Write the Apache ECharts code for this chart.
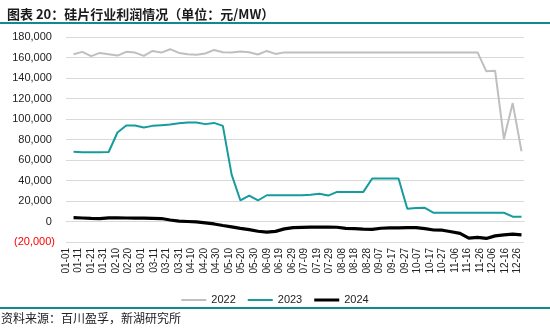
<!DOCTYPE html>
<html>
<head>
<meta charset="utf-8">
<script src="https://cdn.jsdelivr.net/npm/echarts@6/dist/echarts.min.js"></script>
<style>
  html, body { margin: 0; padding: 0; background: #fff; }
  #chart { width: 550px; height: 330px; }
</style>
</head>
<body>
<div id="chart"></div>
<script>
// Weekly sample dates (MM-DD), shared by the three yearly series
const weekDates = [
  '01-07','01-14','01-21','01-28','02-04','02-11','02-18','02-25',
  '03-03','03-10','03-17','03-24','03-31','04-07','04-14','04-21','04-28',
  '05-05','05-12','05-19','05-26','06-02','06-09','06-16','06-23','06-30',
  '07-07','07-14','07-21','07-28','08-04','08-11','08-18','08-25',
  '09-01','09-08','09-15','09-22','09-29','10-06','10-13','10-20','10-27',
  '11-03','11-10','11-17','11-24','12-01','12-08','12-15','12-22','12-29'
];

// Silicon wafer industry profit, yuan / MW
const profit2022 = [
  163200, 165500, 161300, 164500, 163200, 161900, 165500, 164800, 161600, 166400,
  164800, 168100, 164500, 163200, 162600, 163900, 167400, 165100, 164800, 165800,
  165100, 162900, 166400, 163500, 165000, 165000, 165000, 165000, 165000, 165000,
  165000, 165000, 165000, 165000, 165000, 165000, 165000, 165000, 165000, 165000,
  165000, 165000, 165000, 165000, 165000, 165000, 165000, 146500, 147000, 80500,
  115500, 68500
];
const profit2023 = [
  68000, 67500, 67500, 67500, 67800, 86800, 93600, 93600, 91700, 93300,
  94000, 94600, 95900, 96500, 96500, 95000, 96200, 93300, 45700, 20500,
  25300, 20500, 25600, 25500, 25500, 25500, 25500, 26200, 27000, 25300,
  28900, 28900, 28900, 28900, 42000, 42000, 42000, 42000, 12400, 13200,
  13400, 8500, 8500, 8500, 8500, 8500, 8500, 8500, 8500, 8500,
  4700, 4700
];
const profit2024 = [
  3700, 3400, 3000, 2800, 3500, 3500, 3400, 3300, 3200, 3100,
  2900, 1500, 400, 0, -400, -1300, -2400, -3900, -5300, -6700,
  -8000, -9500, -10300, -9600, -7200, -6000, -5700, -5400, -5400, -5400,
  -5600, -6700, -7000, -7400, -7700, -6600, -6300, -6200, -6000, -6000,
  -7000, -8300, -8500, -10000, -11600, -16300, -15500, -16500, -14000, -13000,
  -12400, -13000
];

const seriesNames = ['2022', '2023', '2024'];
const seriesColors = ['#bfbfbf', '#169c9c', '#000000'];
const seriesWidths = [2, 2, 3.2];
const seriesValues = [profit2022, profit2023, profit2024];

// Legend keys drawn in a 25x12 box: a centred horizontal bar (thin for 2022/2023, thick for 2024)
const legendIcons = [
  'path://M0,0L0.01,0L0,0Z M0,5H25V7H0Z M0,12L0.01,12L0,12Z',
  'path://M0,0L0.01,0L0,0Z M0,5H25V7H0Z M0,12L0.01,12L0,12Z',
  'path://M0,0L0.01,0L0,0Z M0,4.4H25V7.6H0Z M0,12L0.01,12L0,12Z'
];

// Day-of-year categories (leap-year calendar), labelled every 10 days
const dayLabels = [];
for (let d = new Date(Date.UTC(2024, 0, 1)); d.getUTCFullYear() === 2024; d.setUTCDate(d.getUTCDate() + 1)) {
  const mm = String(d.getUTCMonth() + 1).padStart(2, '0');
  const dd = String(d.getUTCDate()).padStart(2, '0');
  dayLabels.push(mm + '-' + dd);
}

const fmtThousands = v => String(v).replace(/\B(?=(\d{3})+(?!\d))/g, ',');

const chart = echarts.init(document.getElementById('chart'), null, { renderer: 'canvas' });

chart.setOption({
  animation: false,
  backgroundColor: '#ffffff',
  color: seriesColors,
  textStyle: { fontFamily: '"Liberation Sans", Arial, sans-serif' },
  title: {
    text: '图表 20：硅片行业利润情况（单位：元/MW）',
    left: 2,
    top: 3,
    textStyle: {
      fontFamily: '"Noto Sans CJK SC", sans-serif',
      fontSize: 13,
      fontWeight: 'bold',
      color: '#1a1a1a'
    }
  },
  graphic: [
    { type: 'rect', left: 0, top: 22, shape: { width: 550, height: 2 }, style: { fill: '#12898b' } },
    { type: 'rect', left: 0, top: 307, shape: { width: 550, height: 2 }, style: { fill: '#12898b' } },
    {
      type: 'text', left: 1, top: 312,
      style: {
        text: '资料来源：百川盈孚，新湖研究所',
        font: '12px "Noto Sans CJK SC", sans-serif',
        fill: '#222'
      }
    }
  ],
  legend: {
    data: seriesNames.map((name, i) => ({
      name,
      icon: legendIcons[i],
      itemStyle: { color: seriesColors[i], borderWidth: 0, opacity: 1 }
    })),
    left: 'center',
    top: 289,
    itemWidth: 25,
    itemHeight: 12,
    itemGap: 12,
    symbolKeepAspect: false,
    textStyle: { fontSize: 11, color: '#222', fontFamily: '"Liberation Sans", Arial, sans-serif' }
  },
  grid: { left: 66, right: 26, top: 37, bottom: 88, containLabel: false },
  xAxis: {
    type: 'category',
    data: dayLabels,
    boundaryGap: false,
    axisLine: { show: true, lineStyle: { color: '#d9d9d9', width: 1 } },
    axisTick: { show: false },
    axisLabel: {
      interval: 9,
      rotate: 90,
      margin: 6,
      fontSize: 10,
      color: '#222'
    },
    splitLine: { show: false }
  },
  yAxis: {
    type: 'value',
    min: -20000,
    max: 180000,
    interval: 20000,
    axisLine: { show: false },
    axisTick: { show: false },
    splitLine: { lineStyle: { color: '#d9d9d9', width: 1 } },
    axisLabel: {
      margin: 11,
      fontSize: 11,
      color: '#222',
      formatter: v => v < 0 ? '{neg|(' + fmtThousands(-v) + ')}' : fmtThousands(v) + ' ',
      rich: { neg: { color: '#ff0000', fontSize: 11 } }
    }
  },
  series: seriesNames.map((name, i) => ({
    name,
    type: 'line',
    symbol: 'none',
    connectNulls: true,
    z: 10 - i,
    lineStyle: { color: seriesColors[i], width: seriesWidths[i] },
    itemStyle: { color: seriesColors[i] },
    data: weekDates.map((d, k) => [d, seriesValues[i][k]])
  }))
});
</script>
</body>
</html>
